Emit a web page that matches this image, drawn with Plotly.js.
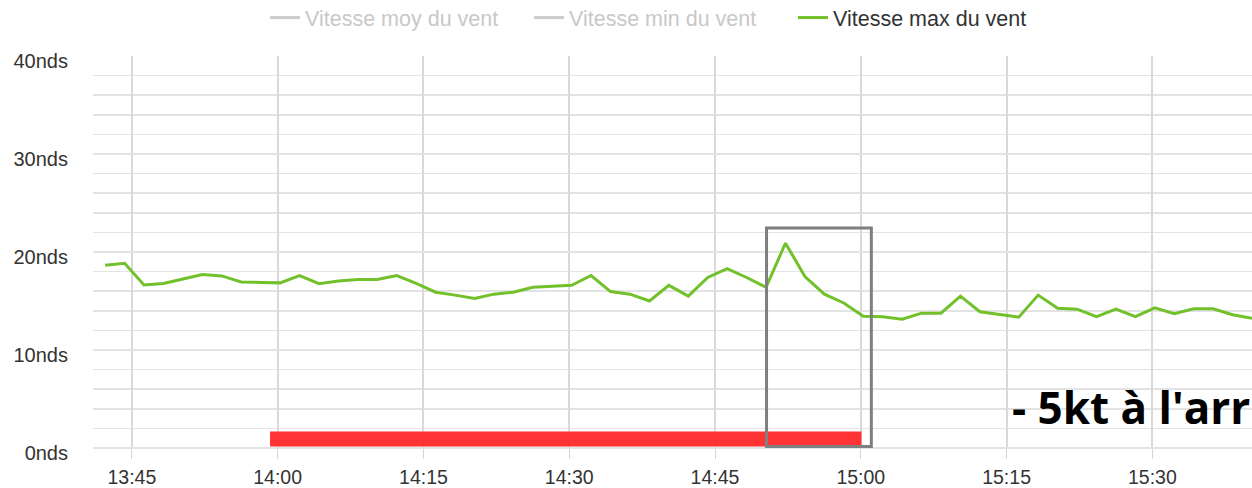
<!DOCTYPE html>
<html>
<head>
<meta charset="utf-8">
<script src="https://cdn.plot.ly/plotly-3.0.1.min.js"></script>
<style>
  html, body { margin: 0; padding: 0; background: #fff; }
  #chart { width: 1252px; height: 488px; }
</style>
</head>
<body>
<div id="chart"></div>
<script>
// ---- data ----
const day = '2000-01-01 ';
const times = [
  '13:42:15','13:44:15','13:46:15','13:48:15','13:50:15','13:52:15','13:54:15','13:56:15','13:58:15','14:00:15',
  '14:02:15','14:04:15','14:06:15','14:08:15','14:10:15','14:12:15','14:14:15','14:16:15','14:18:15','14:20:15',
  '14:22:15','14:24:15','14:26:15','14:28:15','14:30:15','14:32:15','14:34:15','14:36:15','14:38:15','14:40:15',
  '14:42:15','14:44:15','14:46:15','14:48:15','14:50:15','14:52:15','14:54:15','14:56:15','14:58:15','15:00:15',
  '15:02:15','15:04:15','15:06:15','15:08:15','15:10:15','15:12:15','15:14:15','15:16:15','15:18:15','15:20:15',
  '15:22:15','15:24:15','15:26:15','15:28:15','15:30:15','15:32:15','15:34:15','15:36:15','15:38:15','15:40:15'
];
const ventMax = [
  18.65, 18.85, 16.64, 16.78, 17.25, 17.70, 17.56, 16.95, 16.90, 16.85,
  17.60, 16.77, 17.05, 17.20, 17.20, 17.60, 16.80, 15.90, 15.60, 15.25,
  15.70, 15.90, 16.40, 16.50, 16.60, 17.60, 15.96, 15.70, 15.00, 16.60,
  15.50, 17.40, 18.30, 17.40, 16.40, 20.90, 17.50, 15.70, 14.80, 13.45,
  13.40, 13.15, 13.76, 13.76, 15.50, 13.90, 13.60, 13.35, 15.60, 14.27,
  14.17, 13.40, 14.17, 13.40, 14.30, 13.70, 14.20, 14.20, 13.60, 13.25
];
// series switched off in the reference (shown only in the legend, no values visible)
const ventMoy = [null];
const ventMin = [null];
const seriesNames = ['Vitesse moy du vent', 'Vitesse min du vent', 'Vitesse max du vent'];
const yTickVals = [0, 10, 20, 30, 40];
const yTickText = ['0nds', '10nds', '20nds', '30nds', '40nds'];
const noteText = "- 5kt à l'arr";

const xs = times.map(t => day + t);

const traces = [
  {
    x: [xs[0]], y: ventMoy, type: 'scatter', mode: 'lines',
    name: '<span style="color:#c8c8c8">' + seriesNames[0] + '</span>',
    line: { color: '#cccccc', width: 3 }, hoverinfo: 'skip'
  },
  {
    x: [xs[0]], y: ventMin, type: 'scatter', mode: 'lines',
    name: '<span style="color:#c8c8c8">' + seriesNames[1] + '</span>',
    line: { color: '#cccccc', width: 3 }, hoverinfo: 'skip'
  },
  {
    x: xs, y: ventMax, type: 'scatter', mode: 'lines',
    name: seriesNames[2],
    line: { color: '#72c12b', width: 3 }
  }
];

const layout = {
  width: 1252, height: 488,
  margin: { l: 93, r: 0, t: 55.5, b: 39.5, autoexpand: false },
  paper_bgcolor: '#ffffff', plot_bgcolor: '#ffffff',
  font: { family: '"Liberation Sans", Arial, Helvetica, sans-serif', color: '#333333' },
  showlegend: true,
  legend: {
    orientation: 'h', x: 0.1484, xanchor: 'left', y: 1.098, yref: 'paper', yanchor: 'middle',
    font: { size: 21.5, color: '#333333' }, entrywidth: 219,
    bgcolor: 'rgba(0,0,0,0)'
  },
  xaxis: {
    type: 'date',
    range: [day + '13:41:00', day + '15:40:15'],
    tick0: day + '13:45:00', dtick: 15 * 60 * 1000,
    tickformat: '%H:%M',
    showgrid: true, gridcolor: '#d9d9d9', gridwidth: 2,
    zeroline: false, showline: false,
    ticks: 'outside', ticklen: 10, tickwidth: 1, tickcolor: '#ccd6eb',
    ticklabelstandoff: 2,
    tickfont: { size: 19.5, color: '#333333' },
    fixedrange: true
  },
  yaxis: {
    range: [0, 40],
    tickvals: yTickVals, ticktext: yTickText,
    showgrid: true, gridcolor: '#e3e3e3', gridwidth: 1.5,
    minor: { dtick: 2, showgrid: true, gridcolor: '#e3e3e3', gridwidth: 1.5 },
    zeroline: true, zerolinecolor: '#e3e3e3', zerolinewidth: 1.5,
    showline: false,
    ticks: '', ticklabelstandoff: 24, ticklabelshift: 5,
    tickfont: { size: 20, color: '#333333' },
    fixedrange: true
  },
  shapes: [
    {
      type: 'rect', xref: 'x', yref: 'y', layer: 'above',
      x0: day + '13:59:13', x1: day + '15:00:04', y0: 0.15, y1: 1.68,
      fillcolor: '#ff3333', line: { width: 0 }
    },
    {
      type: 'rect', xref: 'x', yref: 'y', layer: 'above',
      x0: day + '14:50:18', x1: day + '15:01:05', y0: 0.15, y1: 22.44,
      fillcolor: 'rgba(0,0,0,0)', line: { color: '#7f7f7f', width: 3 }
    }
  ],
  annotations: [
    {
      text: '<b>' + noteText + '</b>', xref: 'paper', yref: 'y',
      x: 1, xanchor: 'right', y: 4.2, yanchor: 'middle',
      showarrow: false,
      font: { family: '"Open Sans", "Noto Sans", sans-serif', size: 44, color: '#000000' }
    }
  ]
};

Plotly.newPlot('chart', traces, layout, { displayModeBar: false, staticPlot: true });
</script>
</body>
</html>
